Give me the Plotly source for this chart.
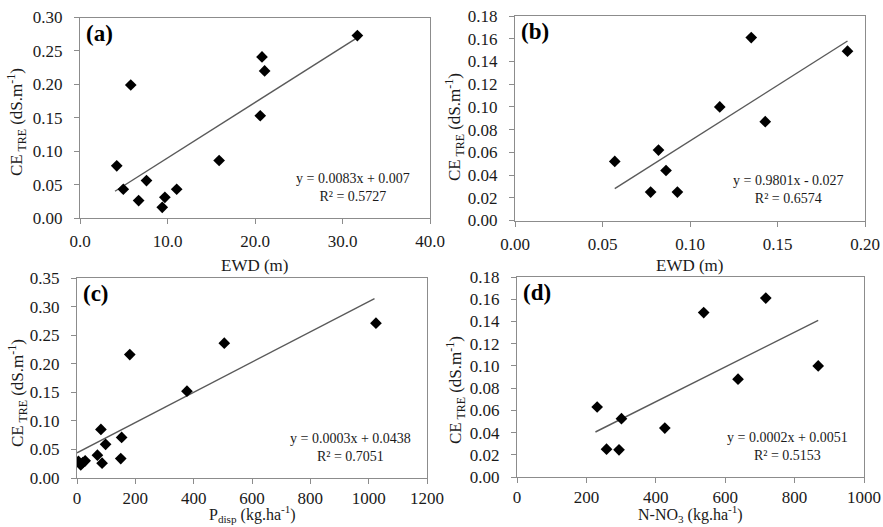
import plotly.graph_objects as go

# ---------------- data ----------------
# (a) EWD (m) vs CE_TRE
a_x = [4.2, 4.95, 5.8, 6.7, 7.6, 9.4, 9.7, 11.05, 15.9, 20.6, 20.8, 21.1, 31.7]
a_y = [0.078, 0.043, 0.199, 0.026, 0.056, 0.016, 0.031, 0.043, 0.086, 0.153, 0.241, 0.220, 0.273]
a_trend_x = [4.0, 31.7]
a_trend_y = [0.040, 0.270]

# (b) EWD (m) vs CE_TRE
b_x = [0.057, 0.0775, 0.082, 0.0863, 0.0928, 0.117, 0.135, 0.143, 0.190]
b_y = [0.052, 0.025, 0.062, 0.044, 0.025, 0.100, 0.161, 0.087, 0.149]
b_trend_x = [0.057, 0.190]
b_trend_y = [0.028, 0.158]

# (c) P_disp (kg/ha) vs CE_TRE
c_x = [5, 13, 20, 28, 70, 82, 86, 98, 150, 153, 181, 377, 505, 1025]
c_y = [0.029, 0.023, 0.027, 0.030, 0.040, 0.085, 0.026, 0.059, 0.034, 0.071, 0.216, 0.152, 0.236, 0.271]
c_trend_x = [0, 1020]
c_trend_y = [0.044, 0.314]

# (d) N-NO3 (kg/ha) vs CE_TRE
d_x = [231, 258, 294, 301, 426, 538, 637, 717, 868]
d_y = [0.063, 0.025, 0.0245, 0.0525, 0.044, 0.148, 0.088, 0.161, 0.100]
d_trend_x = [226, 868]
d_trend_y = [0.0405, 0.141]

labels = ["(a)", "(b)", "(c)", "(d)"]
equations = ["y = 0.0083x + 0.007<br>R² = 0.5727",
             "y = 0.9801x - 0.027<br>R² = 0.6574",
             "y = 0.0003x + 0.0438<br>R² = 0.7051",
             "y = 0.0002x + 0.0051<br>R² = 0.5153"]
x_titles = ["EWD (m)", "EWD (m)",
            "P<sub>disp</sub> (kg.ha<sup>-1</sup>)",
            "N-NO<sub>3</sub> (kg.ha<sup>-1</sup>)"]
y_title = "CE<sub> TRE</sub> (dS.m<sup>-1</sup>)"

x_ranges = [[0, 40], [0, 0.20], [0, 1200], [0, 1000]]
x_dticks = [10, 0.05, 200, 200]
x_formats = [".1f", ".2f", "d", "d"]
y_ranges = [[0, 0.30], [0, 0.18], [0, 0.35], [0, 0.18]]
y_dticks = [0.05, 0.02, 0.05, 0.02]

W, H = 883, 527
# plot frames in pixels: left, right, top, bottom
frames = [(80, 430, 17.5, 218), (515, 865, 16, 220.5),
          (77, 427, 278, 478), (517, 864, 277, 477)]
# axis title centres in pixels
xtitle_y = [265, 265, 514, 514]
xtitle_size = [17, 17, 16, 16]
xlabel_standoff = [3, 3, 0, 0]
ytitle_pos = [(17, 122), (455, 127), (17, 393), (455, 390)]

FONT = "Liberation Serif"
fig = go.Figure()

series = [(a_x, a_y, a_trend_x, a_trend_y), (b_x, b_y, b_trend_x, b_trend_y),
          (c_x, c_y, c_trend_x, c_trend_y), (d_x, d_y, d_trend_x, d_trend_y)]

for i, (xs, ys, tx, ty) in enumerate(series):
    n = "" if i == 0 else str(i + 1)
    fig.add_trace(go.Scatter(x=tx, y=ty, mode="lines",
                             line=dict(color="#5a5a5a", width=1.4),
                             xaxis="x" + n, yaxis="y" + n, showlegend=False))
    fig.add_trace(go.Scatter(x=xs, y=ys, mode="markers",
                             marker=dict(symbol="diamond", size=9, color="black"),
                             xaxis="x" + n, yaxis="y" + n, showlegend=False))

layout = dict(width=W, height=H, margin=dict(l=0, r=0, t=0, b=0, autoexpand=False),
              paper_bgcolor="white", plot_bgcolor="white",
              font=dict(family=FONT, color="#1a1a1a", size=16))
annotations = []
for i in range(4):
    n = "" if i == 0 else str(i + 1)
    l, r, t, b = frames[i]
    xd = [l / W, r / W]
    yd = [1 - b / H, 1 - t / H]
    axis_common = dict(showgrid=False, zeroline=False, showline=True, mirror=True,
                       linecolor="#8c8c8c", linewidth=1, ticks="outside", automargin=False,
                       ticklen=5, tickcolor="#8c8c8c", tickfont=dict(size=17, family=FONT))
    layout["xaxis" + n] = dict(axis_common, domain=xd, range=x_ranges[i], dtick=x_dticks[i],
                               tick0=0, tickformat=x_formats[i], anchor="y" + n,
                               ticklabelstandoff=xlabel_standoff[i])
    layout["yaxis" + n] = dict(axis_common, domain=yd, range=y_ranges[i], dtick=y_dticks[i],
                               tick0=0, tickformat=".2f", anchor="x" + n, ticklabelstandoff=8)
    # axis titles
    annotations.append(dict(text=x_titles[i], xref="x" + n + " domain", yref="paper",
                            x=0.5, y=1 - xtitle_y[i] / H, xanchor="center", yanchor="middle",
                            showarrow=False, font=dict(size=xtitle_size[i], family=FONT, color="#1a1a1a")))
    yx, yy = ytitle_pos[i]
    annotations.append(dict(text=y_title, xref="paper", yref="paper", textangle=-90,
                            x=yx / W, y=1 - yy / H, xanchor="center", yanchor="middle",
                            showarrow=False, font=dict(size=17, family=FONT, color="#1a1a1a")))
    # panel label and regression equation
    annotations.append(dict(text="<b>" + labels[i] + "</b>", xref="x" + n + " domain",
                            yref="y" + n + " domain", x=0.012, y=0.995, xanchor="left",
                            yanchor="top", showarrow=False, font=dict(size=23, family=FONT, color="black")))
    annotations.append(dict(text=equations[i], xref="x" + n + " domain",
                            yref="y" + n + " domain", x=0.78, y=0.06, xanchor="center",
                            yanchor="bottom", showarrow=False, align="center",
                            font=dict(size=14, family=FONT, color="#1a1a1a")))
layout["annotations"] = annotations
fig.update_layout(**layout)
fig.write_html("out.html")
